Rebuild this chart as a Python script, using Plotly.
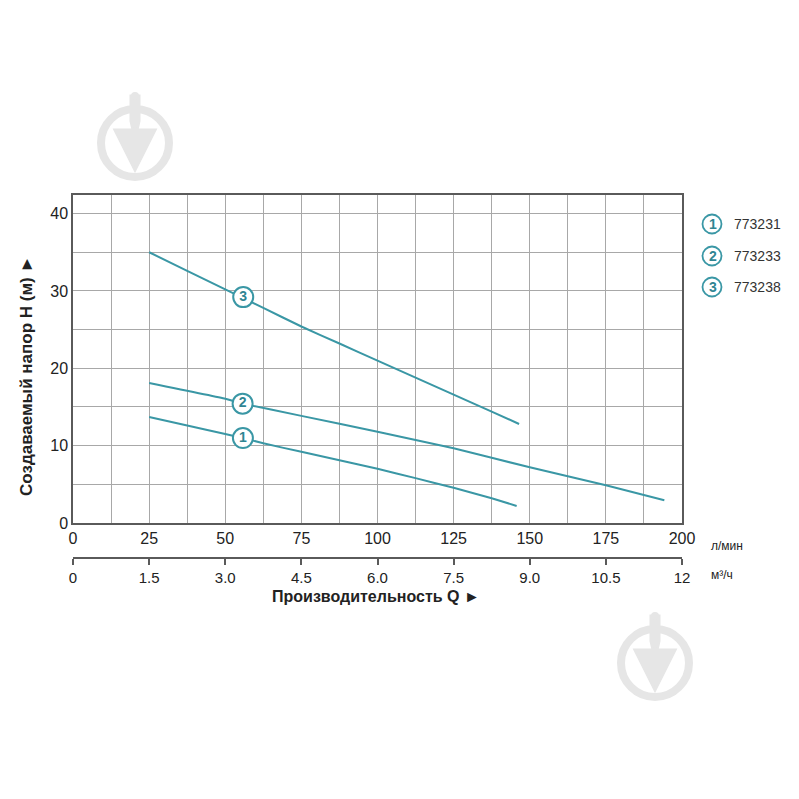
import plotly.graph_objects as go

# ---- data ----
q_lmin_1 = [25, 37.5, 50, 55.7, 62.5, 75, 87.5, 100, 112.5, 125, 137.5, 145.7]
h_1 = [13.7, 12.6, 11.5, 11.0, 10.3, 9.2, 8.1, 7.0, 5.8, 4.55, 3.2, 2.2]
q_lmin_2 = [25, 50, 55.7, 75, 100, 125, 150, 175, 194.2]
h_2 = [18.1, 16.07, 15.43, 13.85, 11.8, 9.66, 7.2, 4.87, 2.95]
q_lmin_3 = [25, 37.5, 50, 62.5, 75, 87.5, 100, 112.5, 125, 137.5, 146.5]
h_3 = [35.0, 32.6, 30.2, 27.8, 25.4, 23.2, 21.0, 18.8, 16.6, 14.4, 12.8]
label_q = [55.8, 55.7, 55.9]
label_h = [10.98, 15.43, 29.2]
label_txt = ["1", "2", "3"]
models = ["773231", "773233", "773238"]
x_ticks_m3h = [0, 1.5, 3.0, 4.5, 6.0, 7.5, 9.0, 10.5, 12]
x_ticks_m3h_text = ["0", "1.5", "3.0", "4.5", "6.0", "7.5", "9.0", "10.5", "12"]
y_ticks = [0, 10, 20, 30, 40]

TEAL = "#3a97a5"
NUM = "#2f8593"
GRID = "#a8a8a8"
FRAME = "#5a5a5a"
TXT = "#222222"
WM = "#e6e6e6"
FONT = "Liberation Sans Narrow, Liberation Sans, Arial"

# pixel geometry (screen pixels; page body has an 8px margin)
O = 8
L, R, T, B2 = 73, 682, 195, 558
PW, PH = R - L, B2 - T
def px(x):
    return (x - L) / PW
def py(y):
    return (B2 - y) / PH

fig = go.Figure()
for xs, ys in [(q_lmin_1, h_1), (q_lmin_2, h_2), (q_lmin_3, h_3)]:
    fig.add_trace(go.Scatter(x=xs, y=ys, mode="lines", line=dict(color=TEAL, width=2, shape="spline", smoothing=0.3),
                             showlegend=False, hoverinfo="skip"))
fig.add_trace(go.Scatter(x=label_q, y=label_h, mode="markers+text", text=["<b>%s</b>" % t for t in label_txt],
                         textposition="middle center",
                         textfont=dict(color=NUM, size=14, family="Liberation Sans"),
                         marker=dict(size=20, color="white", line=dict(color=TEAL, width=2)),
                         showlegend=False, hoverinfo="skip"))
# invisible trace for second axis
fig.add_trace(go.Scatter(x=[0, 12], y=[0, 0], xaxis="x2", mode="markers",
                         marker=dict(opacity=0), showlegend=False, hoverinfo="skip"))

grid_x = [i * 12.5 for i in range(17)]
grid_x_text = [str(int(v)) if v % 25 == 0 else "" for v in grid_x]
grid_y = [i * 5 for i in range(9)]
grid_y_text = [str(v) if v in y_ticks else "" for v in grid_y]

y_dom0 = py(523)
fig.update_layout(
    width=799 - O, height=799 - O,
    margin=dict(l=L - O, r=799 - R, t=T - O, b=799 - B2),
    paper_bgcolor="white", plot_bgcolor="white",
    xaxis=dict(range=[0, 200], tickvals=grid_x, ticktext=grid_x_text, showgrid=True, gridcolor=GRID, gridwidth=1,
               showline=True, linecolor=FRAME, linewidth=1.5, mirror=True, ticks="", zeroline=False,
               tickfont=dict(family=FONT, size=16, color=TXT), anchor="y"),
    yaxis=dict(range=[0, 42.4], domain=[y_dom0, 1], tickvals=grid_y, ticktext=grid_y_text, showgrid=True,
               gridcolor=GRID, gridwidth=1, showline=True, linecolor=FRAME, linewidth=1.5, mirror=True,
               ticks="", zeroline=False, tickfont=dict(family=FONT, size=16, color=TXT)),
    xaxis2=dict(range=[0, 12], overlaying="x", anchor="free", position=0, side="bottom",
                tickvals=x_ticks_m3h, ticktext=x_ticks_m3h_text, showgrid=False, zeroline=False,
                showline=True, linecolor=FRAME, linewidth=1.5, ticks="outside", ticklen=6, tickwidth=1.5,
                tickcolor=FRAME, tickfont=dict(family=FONT, size=15, color=TXT)),
)

def A(x, y, text, size, color=TXT, family=FONT, xanchor="center", **kw):
    return dict(x=px(x), y=py(y), text=text, showarrow=False, xref="paper", yref="paper",
                xanchor=xanchor, yanchor="middle", font=dict(family=family, size=size, color=color), **kw)

ann = [
    A(709, 546, "л/мин", 12, xanchor="left"),
    A(709, 575, "м³/ч", 12, xanchor="left"),
    A(376, 596, "<b>Производительность Q ►</b>", 16),
    A(26, 376, "<b>Создаваемый напор H (м) ►</b>", 17, textangle=-90),
]
shapes = []
for i, m in enumerate(models):
    cy = [224, 256, 287][i]
    shapes.append(dict(type="circle", xref="paper", yref="paper", x0=px(712 - 9.5), x1=px(712 + 9.5),
                       y0=py(cy + 9.5), y1=py(cy - 9.5), line=dict(color=TEAL, width=1.8), fillcolor="white"))
    ann.append(A(712.5, cy, "<b>%d</b>" % (i + 1), 14, color=NUM, family="Liberation Sans"))
    ann.append(A(732, cy, m, 14, color="#333333", family=FONT, xanchor="left"))

# watermarks
for cx, cy in [(135, 143), (655, 663)]:
    r = 34
    shapes.append(dict(type="circle", xref="paper", yref="paper", x0=px(cx - r), x1=px(cx + r),
                       y0=py(cy + r), y1=py(cy - r), line=dict(color=WM, width=8), fillcolor="rgba(0,0,0,0)",
                       layer="below"))
    path = (f"M {px(cx-4)} {py(cy-47)} L {px(cx+4)} {py(cy-47)} L {px(cx+4)} {py(cy-22)} "
            f"L {px(cx+2)} {py(cy-13)} L {px(cx-2)} {py(cy-13)} L {px(cx-4)} {py(cy-22)} Z")
    shapes.append(dict(type="path", xref="paper", yref="paper", path=path, fillcolor=WM,
                       line=dict(color=WM, width=3), layer="below"))
    shapes.append(dict(type="circle", xref="paper", yref="paper", x0=px(cx - 4), x1=px(cx + 4),
                       y0=py(cy - 43), y1=py(cy - 51), fillcolor=WM, line=dict(color=WM, width=0), layer="below"))
    tri = (f"M {px(cx-20)} {py(cy-13)} L {px(cx+20)} {py(cy-13)} L {px(cx)} {py(cy+27)} Z")
    shapes.append(dict(type="path", xref="paper", yref="paper", path=tri, fillcolor=WM,
                       line=dict(color=WM, width=3), layer="below"))

fig.update_layout(annotations=ann, shapes=shapes)
fig.write_html("out.html")
